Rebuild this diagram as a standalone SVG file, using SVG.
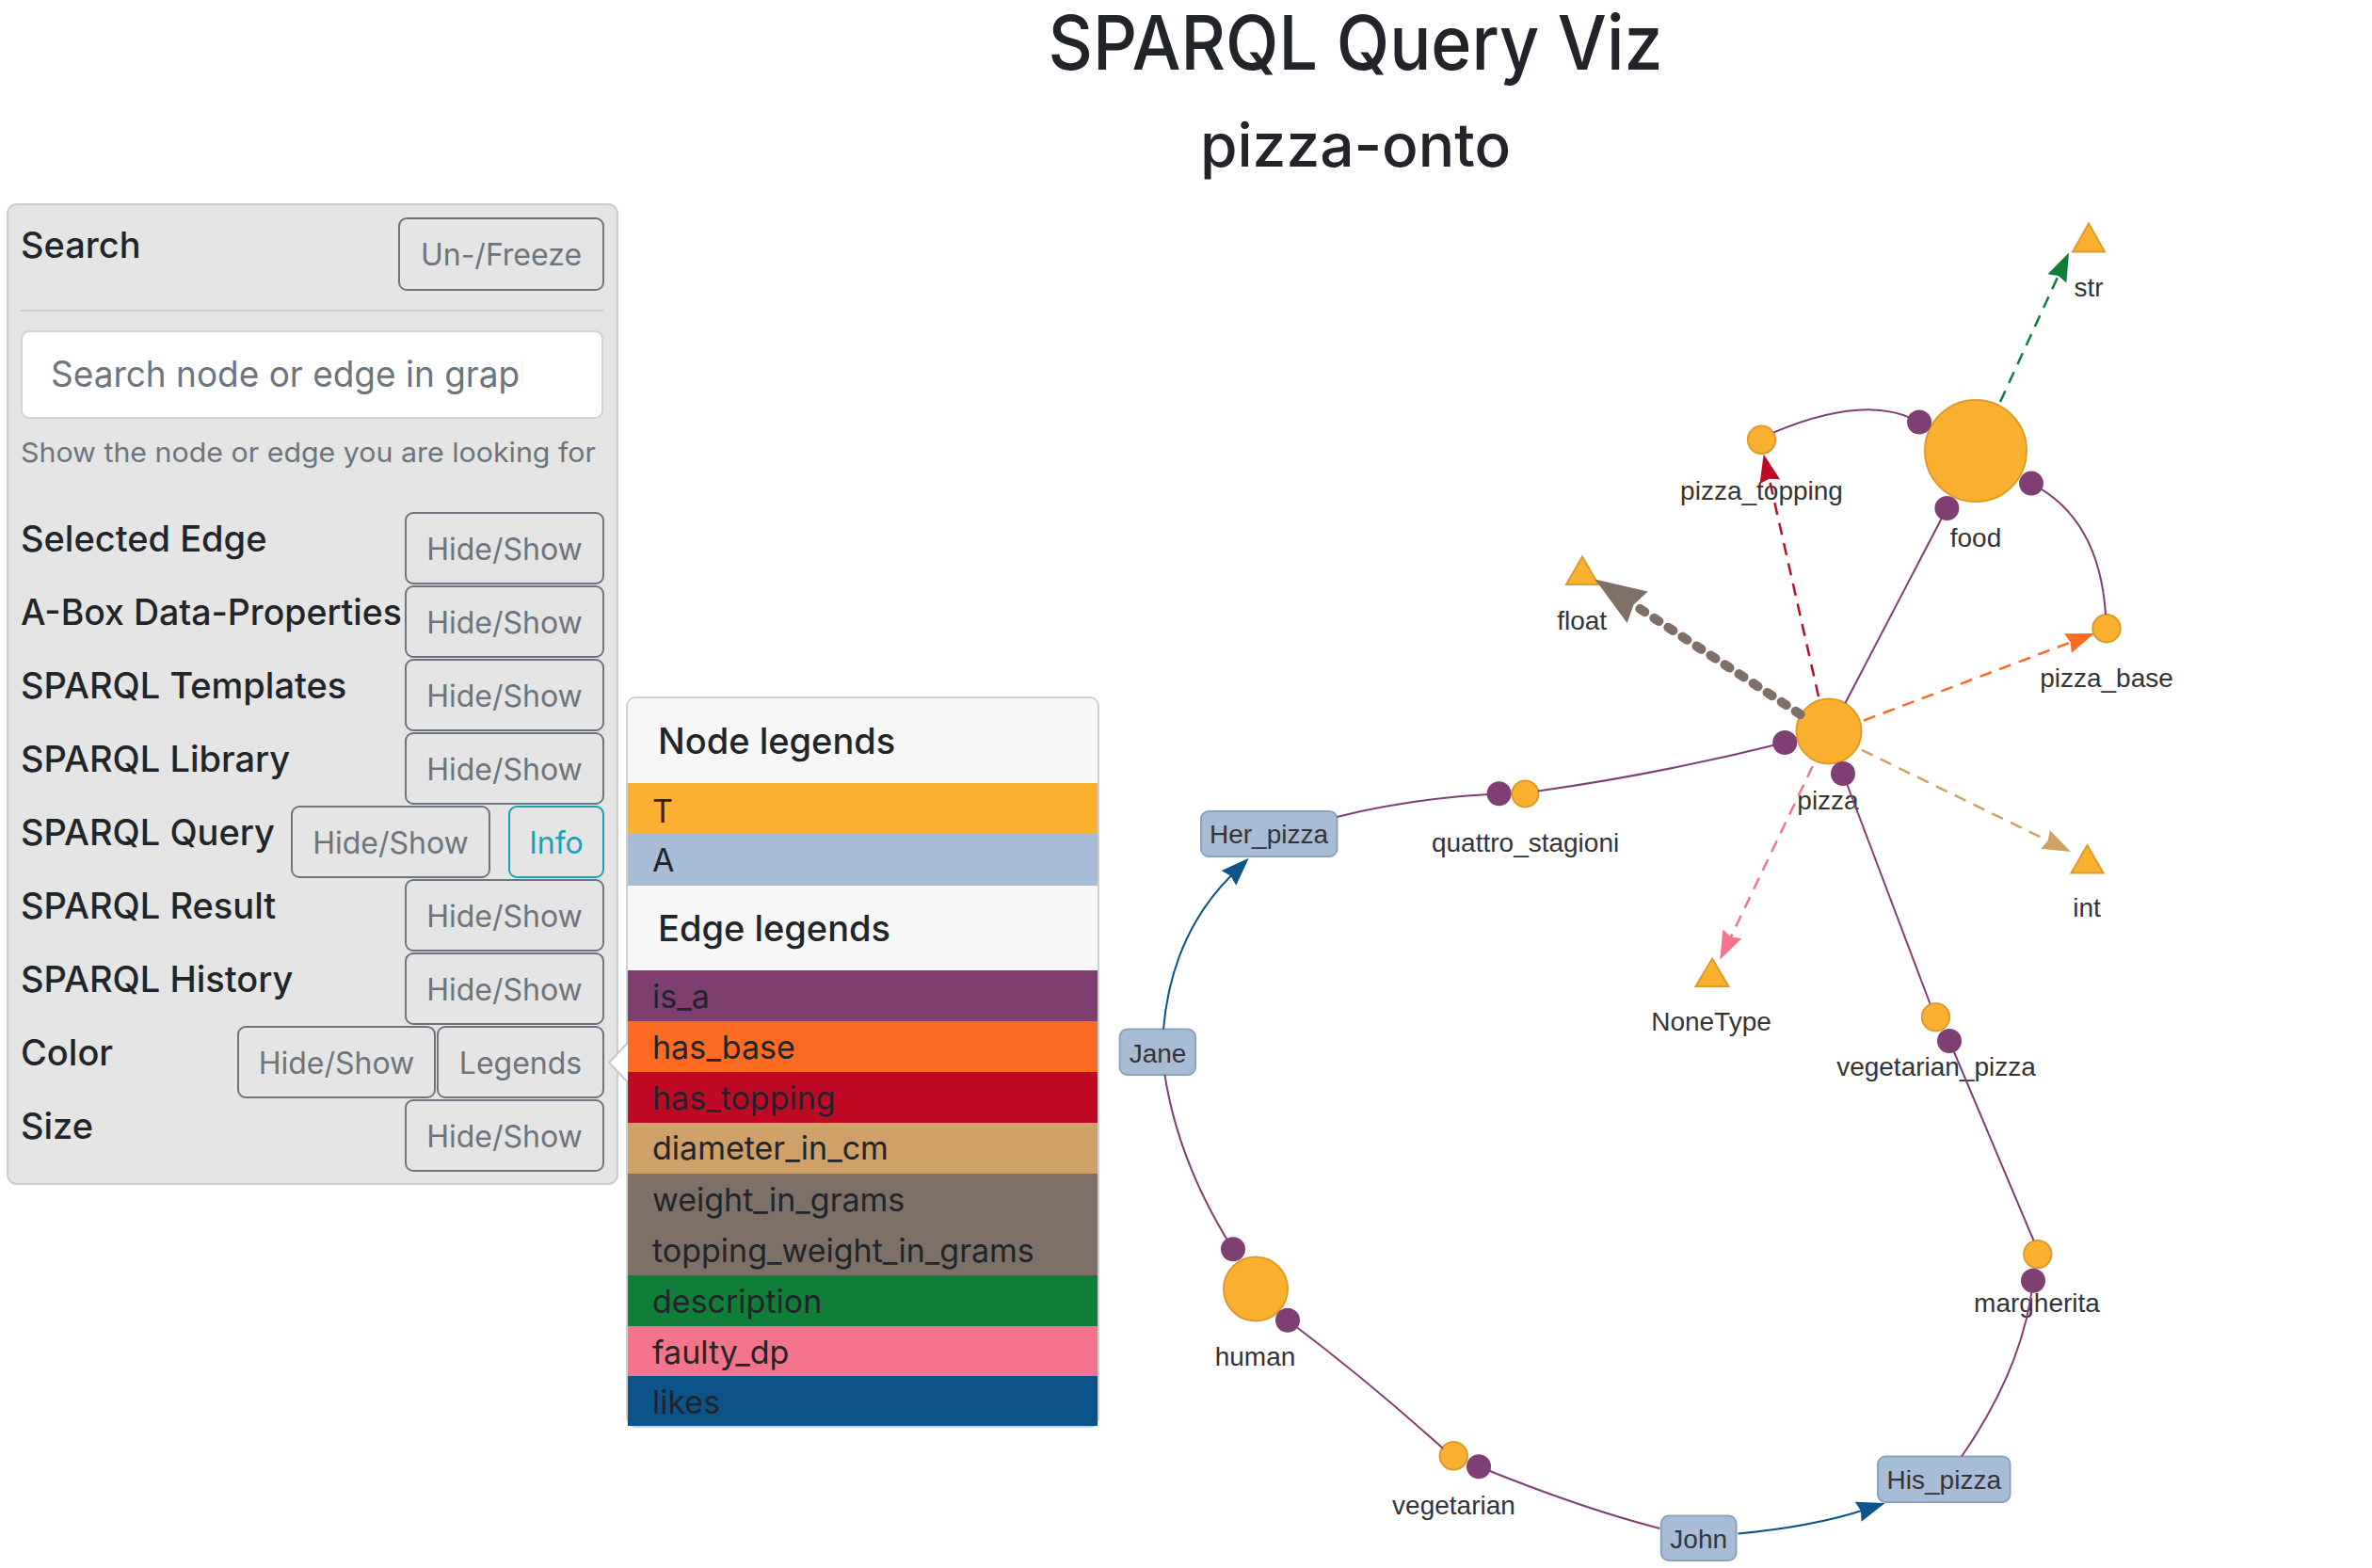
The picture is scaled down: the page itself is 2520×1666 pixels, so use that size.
<svg xmlns="http://www.w3.org/2000/svg" width="2520" height="1666" viewBox="0 0 2520 1666">
<style>
.ui{font-family:Inter,"Liberation Sans",Arial,sans-serif}
.ttl{fill:#212529;font-weight:500;text-anchor:middle}
.lbl{font-size:38px;font-weight:500;fill:#212529}
.btn rect{fill:none;stroke:#6c757d;stroke-width:2}
.btn text{font-size:32px;fill:#6c757d;text-anchor:middle}
.leg{font-size:34px;fill:#212529}
.legh{font-size:38px;font-weight:500;fill:#212529}
.gl{font-family:"Liberation Sans",Arial,sans-serif;font-size:28px;fill:#343434;text-anchor:middle}
.tn{fill:#fbb12f;stroke:#dc9c2c;stroke-width:2}
.an{fill:#a7bcd5;stroke:#8aa2c2;stroke-width:2}
.isa{fill:none;stroke:#7f3f73;stroke-width:2;marker-end:url(#dot)}
.lk{fill:none;stroke:#0b5388;stroke-width:2;marker-end:url(#arB)}
.dp{fill:none;stroke-width:2.5;stroke-dasharray:13 9}
</style>
<defs>
<marker id="dot" viewBox="-14 -14 28 28" markerWidth="28" markerHeight="28" refX="0" refY="0" markerUnits="userSpaceOnUse"><circle r="13" fill="#7f3f73"/></marker>
<marker id="arB" viewBox="-10 -15 40 30" markerWidth="40" markerHeight="30" refX="0" refY="0" orient="auto" markerUnits="userSpaceOnUse"><path d="M25,0 L-5,-11 L-2,0 L-5,11 Z" fill="#0b5388"/></marker>
<marker id="arR" viewBox="-10 -15 40 30" markerWidth="40" markerHeight="30" refX="0" refY="0" orient="auto" markerUnits="userSpaceOnUse"><path d="M25,0 L-5,-11 L-2,0 L-5,11 Z" fill="#bf0a26"/></marker>
<marker id="arO" viewBox="-10 -15 40 30" markerWidth="40" markerHeight="30" refX="0" refY="0" orient="auto" markerUnits="userSpaceOnUse"><path d="M25,0 L-5,-11 L-2,0 L-5,11 Z" fill="#fe6a21"/></marker>
<marker id="arT" viewBox="-10 -15 40 30" markerWidth="40" markerHeight="30" refX="0" refY="0" orient="auto" markerUnits="userSpaceOnUse"><path d="M25,0 L-5,-11 L-2,0 L-5,11 Z" fill="#cfa068"/></marker>
<marker id="arP" viewBox="-10 -15 40 30" markerWidth="40" markerHeight="30" refX="0" refY="0" orient="auto" markerUnits="userSpaceOnUse"><path d="M25,0 L-5,-11 L-2,0 L-5,11 Z" fill="#f4758b"/></marker>
<marker id="arG" viewBox="-10 -15 40 30" markerWidth="40" markerHeight="30" refX="0" refY="0" orient="auto" markerUnits="userSpaceOnUse"><path d="M25,0 L-5,-11 L-2,0 L-5,11 Z" fill="#107d38"/></marker>
<marker id="arW" viewBox="-10 -25 60 50" markerWidth="60" markerHeight="50" refX="0" refY="0" orient="auto" markerUnits="userSpaceOnUse"><path d="M48,0 L-6,-20 L-1,0 L-6,20 Z" fill="#7f7067"/></marker>
<clipPath id="inclip"><rect x="24" y="354" width="531" height="88"/></clipPath>
</defs>
<rect width="2520" height="1666" fill="#ffffff"/>

<g id="title" class="ui">
<text class="ttl" x="1440" y="74" font-size="80" textLength="653" lengthAdjust="spacingAndGlyphs">SPARQL Query Viz</text>
<text class="ttl" x="1440" y="177" font-size="64">pizza-onto</text>
</g>

<g id="panel" class="ui">
<rect x="8" y="217" width="648" height="1041" rx="10" fill="#e5e5e5" stroke="#cecece" stroke-width="2"/>
<text class="lbl" x="22" y="274">Search</text>
<g class="btn"><rect x="424" y="232" width="217" height="76" rx="8"/><text x="532.5" y="282">Un-/Freeze</text></g>
<line x1="22" y1="330" x2="641" y2="330" stroke="#cdcdcd" stroke-width="2"/>
<rect x="23" y="352" width="617" height="92" rx="8" fill="#ffffff" stroke="#ced4da" stroke-width="2"/>
<text x="54" y="411" font-size="38" fill="#6c757d" clip-path="url(#inclip)" textLength="520" lengthAdjust="spacingAndGlyphs">Search node or edge in graph</text>
<text x="22" y="491" font-size="29" fill="#6c757d" textLength="611" lengthAdjust="spacingAndGlyphs">Show the node or edge you are looking for</text>

<text class="lbl" x="22" y="586">Selected Edge</text>
<g class="btn"><rect x="431" y="545" width="210" height="75" rx="8"/><text x="536" y="595">Hide/Show</text></g>
<text class="lbl" x="22" y="664" textLength="405" lengthAdjust="spacingAndGlyphs">A-Box Data-Properties</text>
<g class="btn"><rect x="431" y="623" width="210" height="75" rx="8"/><text x="536" y="673">Hide/Show</text></g>
<text class="lbl" x="22" y="742">SPARQL Templates</text>
<g class="btn"><rect x="431" y="701" width="210" height="75" rx="8"/><text x="536" y="751">Hide/Show</text></g>
<text class="lbl" x="22" y="820">SPARQL Library</text>
<g class="btn"><rect x="431" y="779" width="210" height="75" rx="8"/><text x="536" y="829">Hide/Show</text></g>
<text class="lbl" x="22" y="898">SPARQL Query</text>
<g class="btn"><rect x="310" y="857" width="210" height="75" rx="8"/><text x="415" y="907">Hide/Show</text></g>
<g class="btn"><rect x="541" y="857" width="100" height="75" rx="8" style="stroke:#17a2b8"/><text x="591" y="907" style="fill:#17a2b8">Info</text></g>
<text class="lbl" x="22" y="976">SPARQL Result</text>
<g class="btn"><rect x="431" y="935" width="210" height="75" rx="8"/><text x="536" y="985">Hide/Show</text></g>
<text class="lbl" x="22" y="1054">SPARQL History</text>
<g class="btn"><rect x="431" y="1013" width="210" height="75" rx="8"/><text x="536" y="1063">Hide/Show</text></g>
<text class="lbl" x="22" y="1132">Color</text>
<g class="btn"><rect x="253" y="1091" width="209" height="75" rx="8"/><text x="357.5" y="1141">Hide/Show</text></g>
<g class="btn"><rect x="465" y="1091" width="176" height="75" rx="8"/><text x="553" y="1141">Legends</text></g>
<text class="lbl" x="22" y="1210">Size</text>
<g class="btn"><rect x="431" y="1169" width="210" height="75" rx="8"/><text x="536" y="1219">Hide/Show</text></g>
</g>

<g id="legends" class="ui">
<rect x="666" y="741" width="501" height="775" rx="10" fill="#ffffff" stroke="#cfcfcf" stroke-width="2"/>
<polyline points="667,1108 647,1129 667,1150" fill="#ffffff" stroke="#c8c8c8" stroke-width="2"/>
<path d="M667,832 V751 Q667,742 676,742 H1157 Q1166,742 1166,751 V832 Z" fill="#f7f7f7"/>
<text class="legh" x="699" y="801">Node legends</text>
<rect x="667" y="832" width="499" height="54" fill="#fbb12f"/>
<text class="leg" x="693" y="874">T</text>
<rect x="667" y="886" width="499" height="55" fill="#a7bcd5"/>
<text class="leg" x="693" y="926">A</text>
<rect x="667" y="941" width="499" height="90" fill="#f7f7f7"/>
<text class="legh" x="699" y="1000">Edge legends</text>
<rect x="667" y="1031" width="499" height="54" fill="#7e3f70"/>
<text class="leg" x="693" y="1071">is_a</text>
<rect x="667" y="1085" width="499" height="54" fill="#fe6a21"/>
<text class="leg" x="693" y="1125">has_base</text>
<rect x="667" y="1139" width="499" height="54" fill="#bf0a26"/>
<text class="leg" x="693" y="1179">has_topping</text>
<rect x="667" y="1193" width="499" height="54" fill="#cfa068"/>
<text class="leg" x="693" y="1232">diameter_in_cm</text>
<rect x="667" y="1247" width="499" height="108" fill="#7f7067"/>
<text class="leg" x="693" y="1287">weight_in_grams</text>
<text class="leg" x="693" y="1341">topping_weight_in_grams</text>
<rect x="667" y="1355" width="499" height="54" fill="#107d38"/>
<text class="leg" x="693" y="1395">description</text>
<rect x="667" y="1409" width="499" height="53" fill="#f4758b"/>
<text class="leg" x="693" y="1449">faulty_dp</text>
<rect x="667" y="1462" width="499" height="53" fill="#0b5388"/>
<text class="leg" x="693" y="1502">likes</text>
</g>

<g id="node-food"><circle class="tn" cx="2099" cy="479" r="54"/><text class="gl" x="2099" y="581">food</text></g>
<g id="node-pizza"><circle class="tn" cx="1943" cy="777" r="34.5"/><text class="gl" x="1942" y="860">pizza</text></g>
<g id="node-human"><circle class="tn" cx="1334" cy="1369.5" r="34"/><text class="gl" x="1333.5" y="1451">human</text></g>
<g id="node-pizza_topping"><circle class="tn" cx="1871.5" cy="467.3" r="14.7"/><text class="gl" x="1871.5" y="530.5">pizza_topping</text></g>
<g id="node-pizza_base"><circle class="tn" cx="2238" cy="667.7" r="14.7"/><text class="gl" x="2238" y="730">pizza_base</text></g>
<g id="node-quattro_stagioni"><circle class="tn" cx="1620.4" cy="843.4" r="14"/><text class="gl" x="1620.6" y="904.5">quattro_stagioni</text></g>
<g id="node-vegetarian_pizza"><circle class="tn" cx="2056.5" cy="1080.7" r="14.7"/><text class="gl" x="2057" y="1143">vegetarian_pizza</text></g>
<g id="node-margherita"><circle class="tn" cx="2164.8" cy="1332.6" r="14.7"/><text class="gl" x="2164" y="1393.6">margherita</text></g>
<g id="node-vegetarian"><circle class="tn" cx="1544.3" cy="1546.8" r="14.7"/><text class="gl" x="1544.5" y="1609">vegetarian</text></g>
<g id="node-str"><path class="tn" d="M2219,237.5 L2236,267.5 L2202,267.5 Z"/><text class="gl" x="2219" y="315">str</text></g>
<g id="node-float"><path class="tn" d="M1681,591.6 L1698,621 L1664,621 Z"/><text class="gl" x="1680.7" y="668.8">float</text></g>
<g id="node-int"><path class="tn" d="M2217.5,898 L2234.5,927.5 L2200.5,927.5 Z"/><text class="gl" x="2217" y="974">int</text></g>
<g id="node-NoneType"><path class="tn" d="M1819,1018.6 L1836.5,1048 L1801.5,1048 Z"/><text class="gl" x="1818" y="1095">NoneType</text></g>
<g id="node-Her_pizza"><rect class="an" x="1276" y="862" width="144.5" height="48" rx="8"/><text class="gl" x="1348" y="895.5">Her_pizza</text></g>
<g id="node-Jane"><rect class="an" x="1189.6" y="1093.6" width="80.4" height="48.4" rx="8"/><text class="gl" x="1230" y="1128.5">Jane</text></g>
<g id="node-John"><rect class="an" x="1764.8" y="1610.5" width="79.7" height="47.5" rx="8"/><text class="gl" x="1804.7" y="1644.5">John</text></g>
<g id="node-His_pizza"><rect class="an" x="1995" y="1547.5" width="140.5" height="48.5" rx="8"/><text class="gl" x="2065.3" y="1581.5">His_pizza</text></g>

<g id="connectors">
<path class="isa" d="M1884.5,459.4 Q1984.5,417.3 2039,448.5"/>
<path class="isa" d="M2237,653 Q2230.5,550.7 2158,513.6"/>
<path class="isa" d="M1960.4,747 L2068.4,540"/>
<path class="isa" d="M1634,840.5 Q1765,822 1896.2,789"/>
<path class="isa" d="M1420.4,868 Q1500,848 1592.6,843.2"/>
<path class="isa" d="M2050.5,1066.5 L1958,822"/>
<path class="isa" d="M2160.5,1318 L2071,1106"/>
<path class="isa" d="M2084,1547.5 Q2150,1452.5 2160,1360.7"/>
<path class="isa" d="M1237.4,1142 Q1252.3,1236.4 1310,1327.3"/>
<path class="isa" d="M1533,1539 Q1452,1466 1368,1402.8"/>
<path class="isa" d="M1763.5,1624 Q1681,1603 1571,1558.3"/>
<path class="lk" d="M1236,1093.6 Q1244.6,993.3 1309,929.3"/>
<path class="lk" d="M1846.4,1629.5 Q1925,1622 1978.9,1604.7"/>
<path class="dp" stroke="#bf0a26" marker-end="url(#arR)" d="M1932,740 L1879.2,506.8"/>
<path fill="none" stroke="#7f7067" stroke-width="10" stroke-dasharray="6 12" stroke-linecap="round" marker-end="url(#arW)" d="M1912.7,759 L1734.7,641.9"/>
<path class="dp" stroke="#fe6a21" marker-end="url(#arO)" d="M1980,765.5 L2201.6,681.8"/>
<path class="dp" stroke="#cfa068" marker-end="url(#arT)" d="M1977.8,796.8 L2177.5,894.1"/>
<path class="dp" stroke="#f4758b" marker-end="url(#arP)" d="M1925.7,814 L1838.1,997.1"/>
<path class="dp" stroke="#107d38" marker-end="url(#arG)" d="M2125,427 L2187.5,291.3"/>
</g>
</svg>
